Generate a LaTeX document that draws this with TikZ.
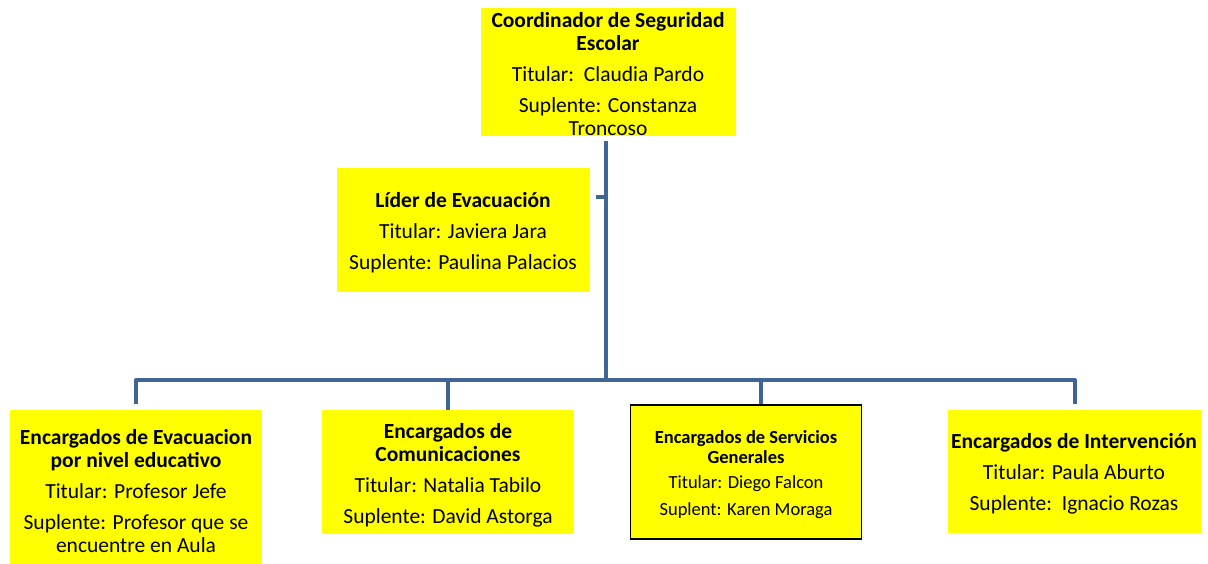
\documentclass[tikz,border=0pt]{standalone}
\usepackage{fontspec}
\setmainfont{Carlito}
\definecolor{boxyellow}{RGB}{255,255,0}
\definecolor{linkblue}{RGB}{62,101,150}
\newcommand{\lift}[1]{\rule{0pt}{#1}}

\begin{document}
\begin{tikzpicture}[x=1pt,y=-1pt,
    cargo/.style={fill=boxyellow,align=center,inner sep=0pt,font=\fontsize{21.5}{23}\selectfont},
    link/.style={draw=linkblue,line width=4pt}]
    \useasboundingbox (0,0) rectangle (1208,564);

    \node[cargo,minimum width=255,minimum height=124] (coord) at (608,72)
        {\lift{20pt}\textbf{Coordinador de Seguridad}\\\textbf{Escolar}\\[8pt]Titular:\ \ Claudia Pardo\\[8pt]Suplente: Constanza\\Troncoso};
    \node[cargo,minimum width=253,minimum height=124] (lider) at (463,230)
        {\lift{21pt}\textbf{Líder de Evacuación}\\[8pt]Titular: Javiera Jara\\[8pt]Suplente: Paulina Palacios};

    \node[cargo,minimum width=252,minimum height=154] (evac) at (136,487)
        {\lift{23pt}\textbf{Encargados de Evacuacion}\\\textbf{por nivel educativo}\\[8pt]Titular: Profesor Jefe\\[8pt]Suplente: Profesor que se\\encuentre en Aula};
    \node[cargo,minimum width=252,minimum height=124] (comu) at (448,472)
        {\lift{21pt}\textbf{Encargados de}\\\textbf{Comunicaciones}\\[8pt]Titular: Natalia Tabilo\\[8pt]Suplente: David Astorga};
    \node[cargo,draw=black,line width=1.5pt,minimum width=231,minimum height=134,
          font=\fontsize{18.5}{20}\selectfont] (serv) at (746,472)
        {\lift{19pt}\textbf{Encargados de Servicios}\\\textbf{Generales}\\[5pt]Titular: Diego Falcon\\[7pt]Suplent: Karen Moraga};
    \node[cargo,minimum width=253,minimum height=123] (inter) at (1074,471)
        {\lift{21pt}\textbf{Encargados de Intervención}\\[8pt]Titular: Paula Aburto\\[8pt]Suplente:\ \ Ignacio Rozas};

    % trunk and bar
    \coordinate (hub) at (606,380);
    \coordinate (stub) at (596,197);
    \draw[link] ([yshift=-5pt]coord.south -| hub) -- (hub);
    \draw[link] (stub) -- (stub -| hub);
    \draw[link,line join=round] (136,404) -- (136,380) -- (1075,380) -- (1075,404);
    \foreach \b/\x in {comu/448,serv/761}{
        \draw[link] (\x,380) -- (\b.north -| \x,0) ++(0,-5);
    }
\end{tikzpicture}
\end{document}
